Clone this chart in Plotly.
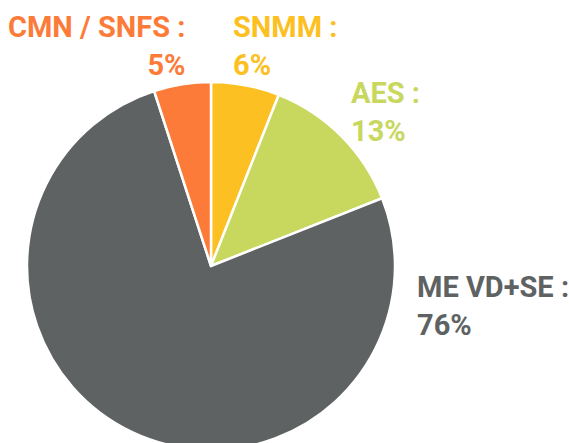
import plotly.graph_objects as go

# Data (clockwise from 12 o'clock)
labels = ["SNMM", "AES", "ME VD+SE", "CMN / SNFS"]
values = [6, 13, 76, 5]
colors = ["#FCC022", "#C8D75E", "#5E6262", "#FD7B38"]

W, H = 569, 460

fig = go.Figure(go.Pie(
    labels=labels,
    values=values,
    sort=False,
    direction="clockwise",
    rotation=0,
    marker=dict(colors=colors, line=dict(color="white", width=2.5)),
    textinfo="none",
    hoverinfo="none",
    showlegend=False,
    domain=dict(x=[27 / W, 395 / W], y=[1 - 450 / H, 1 - 82 / H]),
))

# label placement (pixels: x, top y, anchor)
label_pos = {
    "CMN / SNFS": (187, 8, "right"),
    "SNMM": (231, 8, "left"),
    "AES": (349, 74, "left"),
    "ME VD+SE": (415, 268, "left"),
}

for lab, val, col in zip(labels, values, colors):
    px, py, anc = label_pos[lab]
    fig.add_annotation(
        x=px / W, y=1 - py / H, xref="paper", yref="paper",
        xanchor=anc, yanchor="top", align=anc,
        text=f"{lab} :<br>{val}%",
        showarrow=False,
        font=dict(family="Roboto", size=29, color=col, weight="bold"),
    )

fig.update_layout(
    width=W, height=H,
    margin=dict(l=0, r=0, t=0, b=0),
    paper_bgcolor="white", plot_bgcolor="white",
)

fig.write_html(
    "out.html",
    config={"displayModeBar": False},
    post_script="document.body.style.margin='0';document.body.style.overflow='hidden';",
)
